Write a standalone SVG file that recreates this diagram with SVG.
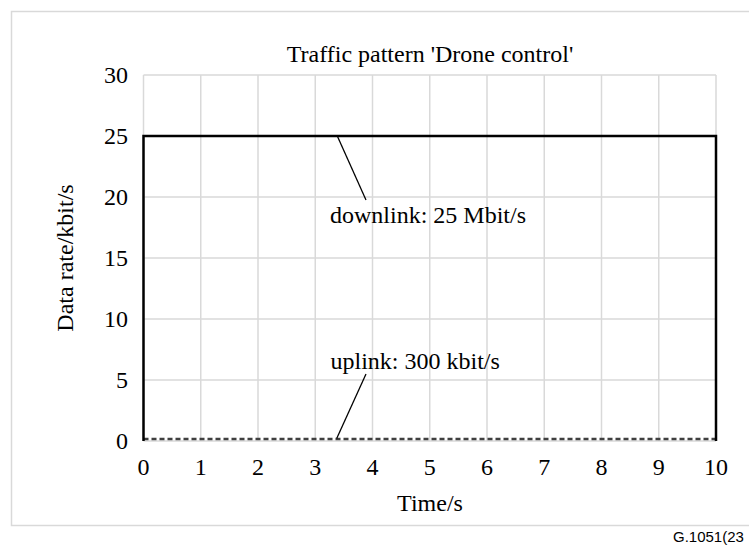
<svg xmlns="http://www.w3.org/2000/svg" width="749" height="545" viewBox="0 0 749 545">
<style>
.t{font-family:"Liberation Serif","Times New Roman",serif;font-size:24px;fill:#000}
.grid{stroke:#d9d9d9;stroke-width:1.5;fill:none}
.yl{text-anchor:end}
.xl{text-anchor:middle}
</style>
<rect width="749" height="545" fill="#fff"/>
<rect x="11.5" y="11.5" width="745" height="514" fill="none" stroke="#d9d9d9" stroke-width="1.5"/>
<g id="grid" class="grid">
<path d="M143.5 75H716M143.5 136H716M143.5 197H716M143.5 258H716M143.5 319H716M143.5 380H716M143.5 441H716"/>
<path d="M143.5 75V441M200.75 75V441M258 75V441M315.25 75V441M372.5 75V441M429.75 75V441M487 75V441M544.25 75V441M601.5 75V441M658.75 75V441M716 75V441"/>
</g>
<text class="t xl" x="430" y="62">Traffic pattern 'Drone control'</text>
<g id="yticks" class="t yl">
<text x="128" y="83">30</text>
<text x="128" y="144">25</text>
<text x="128" y="205">20</text>
<text x="128" y="266">15</text>
<text x="128" y="327">10</text>
<text x="128" y="388">5</text>
<text x="128" y="449">0</text>
</g>
<g id="xticks" class="t xl">
<text x="143.5" y="475">0</text>
<text x="200.75" y="475">1</text>
<text x="258" y="475">2</text>
<text x="315.25" y="475">3</text>
<text x="372.5" y="475">4</text>
<text x="429.75" y="475">5</text>
<text x="487" y="475">6</text>
<text x="544.25" y="475">7</text>
<text x="601.5" y="475">8</text>
<text x="658.75" y="475">9</text>
<text x="716" y="475">10</text>
</g>
<text class="t xl" x="430" y="511">Time/s</text>
<text class="t xl" transform="translate(73 258) rotate(-90)">Data rate/kbit/s</text>
<g id="uplink">
<path d="M143.5 439H716" stroke="#404040" stroke-width="2.5" stroke-dasharray="5 3" fill="none"/>
</g>
<g id="downlink">
<path d="M143.5 441V136H716V441" stroke="#000" stroke-width="2.5" fill="none"/>
</g>
<g id="connectors" stroke="#000" stroke-width="1.3">
<line x1="337.3" y1="136" x2="366" y2="200"/>
<line x1="366" y1="374" x2="336.7" y2="438.5"/>
</g>
<g id="label-downlink"><text class="t" x="330" y="223">downlink: 25 Mbit/s</text></g>
<g id="label-uplink"><text class="t" x="330.5" y="369">uplink: 300 kbit/s</text></g>
<text x="673" y="542" font-family="'Liberation Sans',Arial,sans-serif" font-size="15" fill="#000">G.1051(23</text>
</svg>
